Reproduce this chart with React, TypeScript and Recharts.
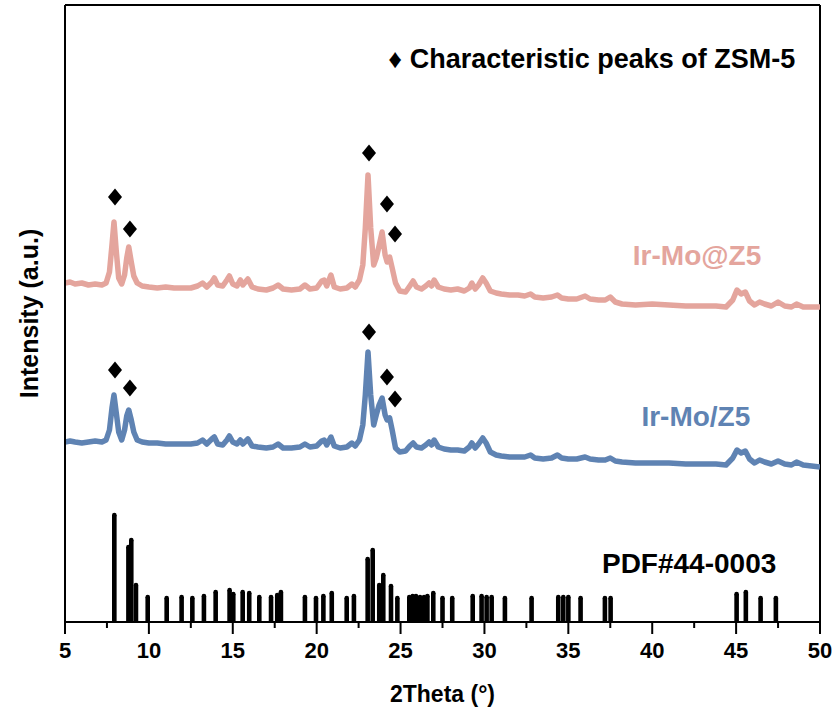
import React from "react"
import { ComposedChart, Line, Scatter, ErrorBar, XAxis, YAxis, ReferenceLine, ReferenceDot } from "recharts"

// 2theta positions shared by both measured patterns
const thetas = [
    5.0, 5.3, 5.6, 6.0, 6.4, 6.8, 7.2, 7.45, 7.65, 7.8, 7.92, 8.05, 8.2, 8.38, 8.55, 8.68, 8.8, 8.95, 9.1, 9.3,
    9.6, 10.0, 10.5, 11.0, 11.5, 12.0, 12.5, 12.9, 13.2, 13.45, 13.75, 13.9, 14.1, 14.4, 14.65, 14.8, 15.0, 15.25,
    15.45, 15.6, 15.9, 16.15, 16.5, 17.0, 17.4, 17.7, 18.0, 18.5, 19.0, 19.3, 19.6, 20.0, 20.3, 20.45, 20.6, 20.85,
    21.05, 21.4, 21.8, 22.1, 22.3, 22.55, 22.75, 22.9, 23.06, 23.22, 23.4, 23.55, 23.72, 23.9, 24.08, 24.2, 24.35,
    24.5, 24.7, 24.95, 25.3, 25.55, 25.75, 25.95, 26.25, 26.5, 26.7, 26.85, 27.0, 27.25, 27.6, 28.0, 28.4, 28.8,
    29.1, 29.25, 29.45, 29.65, 29.9, 30.1, 30.35, 30.7, 31.0, 31.5, 32.0, 32.4, 32.75, 33.0, 33.5, 34.0, 34.35,
    34.6, 35.0, 35.5, 36.0, 36.3, 36.8, 37.2, 37.5, 37.8, 38.2, 39, 40, 41, 42, 43, 43.8, 44.4, 44.8, 45.05, 45.3,
    45.55, 45.8, 46.1, 46.4, 46.7, 47.1, 47.5, 47.9, 48.3, 48.6, 49, 49.5, 50,
]

// Ir-Mo@Z5 (offset upward)
const irMoAtZ5 = [
    339, 340, 338, 339, 337, 338, 337, 339, 350, 377, 400, 372, 344, 338, 347, 364, 375, 360, 346, 339,
    336, 335, 334, 335, 334, 334, 334, 336, 339, 335, 340, 344, 337, 336, 342, 346, 338, 336,
    342, 337, 343, 335, 333, 332, 334, 337, 333, 332, 333, 337, 333, 334, 341, 342, 336, 347,
    335, 333, 334, 338, 335, 342, 357, 394, 447, 394, 357, 364, 376, 390, 367, 360, 365,
    354, 339, 331, 330, 336, 341, 335, 333, 336, 339, 336, 342, 335, 333, 332, 333, 331,
    334, 339, 333, 337, 344, 339, 331, 329, 328, 327, 327, 326, 328, 325, 324, 325, 327,
    324, 323, 323, 326, 323, 322, 322, 325, 320, 318, 317, 318, 317, 316, 316, 316, 315, 322, 332, 328,
    330, 321, 317, 320, 318, 316, 320, 316, 315, 318, 315, 315, 315,
]

// Ir-Mo/Z5
const irMoZ5 = [
    180, 181, 180, 179, 180, 181, 180, 182, 192, 214, 227, 210, 190, 182, 192, 206, 212, 202, 190, 182,
    180, 179, 179, 178, 178, 178, 178, 179, 182, 178, 183, 185, 178, 177, 182, 186, 180, 178,
    182, 178, 183, 176, 175, 174, 175, 178, 174, 174, 175, 178, 175, 176, 181, 182, 177, 185,
    176, 174, 175, 179, 176, 182, 197, 227, 270, 227, 197, 207, 217, 224, 207, 202, 204,
    192, 174, 170, 171, 176, 179, 175, 174, 177, 180, 177, 182, 175, 173, 172, 172, 171,
    175, 179, 174, 178, 184, 179, 170, 167, 166, 165, 165, 165, 167, 164, 163, 164, 167,
    164, 163, 163, 165, 163, 162, 162, 164, 161, 160, 159, 159, 159, 158, 158, 158, 157, 164, 172, 169,
    171, 163, 159, 162, 160, 158, 161, 158, 157, 160, 157, 156, 155,
]

// PDF#44-0003 reference lines
const pdfTheta = [
    7.94, 8.78, 8.95, 9.23, 9.93, 11.06, 11.95, 12.59, 13.28, 13.98, 14.81, 15.03, 15.59, 15.98, 16.58, 17.28,
    17.65, 17.87, 19.3, 19.96, 20.4, 20.9, 21.79, 22.22, 23.04, 23.34, 23.73, 23.97, 24.43, 24.81, 25.52, 25.72,
    25.92, 26.16, 26.4, 26.6, 26.95, 27.5, 28.08, 29.3, 29.83, 30.13, 30.43, 31.22, 32.81, 34.4, 34.7, 35.0,
    35.73, 37.18, 37.52, 45.03, 45.58, 46.46, 47.37,
]
const pdfIntensity = [
    107, 75, 82, 37, 25, 24, 25, 24, 26, 30, 32, 28, 30, 29, 25, 25,
    27, 30, 25, 24, 26, 29, 24, 26, 63, 72, 37, 47, 36, 24, 25, 26,
    26, 25, 25, 26, 29, 24, 24, 26, 26, 25, 25, 24, 24, 25, 25, 25,
    24, 24, 24, 28, 30, 24, 24,
]

// characteristic ZSM-5 peak markers
const markTheta = [7.98, 8.87, 23.12, 24.19, 24.67]
const markAtZ5 = [425, 393, 469, 418, 388]
const markZ5 = [252, 234, 290, 245, 223]

const xTicks = [5, 7.5, 10, 12.5, 15, 17.5, 20, 22.5, 25, 27.5, 30, 32.5, 35, 37.5, 40, 42.5, 45, 47.5, 50]

const PINK = "#E4A59D"
const BLUE = "#5F83B3"
const FONT = "Arial, 'Liberation Sans', sans-serif"

const atZ5Data = thetas.map((x, i) => ({ x, v: irMoAtZ5[i] }))
const z5Data = thetas.map((x, i) => ({ x, v: irMoZ5[i] }))
const pdfData = pdfTheta.map((x, i) => ({ x, y: pdfIntensity[i], err: [pdfIntensity[i], 0] }))
const markAtZ5Data = markTheta.map((x, i) => ({ x, y: markAtZ5[i] }))
const markZ5Data = markTheta.map((x, i) => ({ x, y: markZ5[i] }))

function Diamond(props: any) {
    const { cx, cy } = props
    return <polygon points={`${cx},${cy - 8.5} ${cx + 7},${cy} ${cx},${cy + 8.5} ${cx - 7},${cy}`} fill="#000" />
}

function BarTop(props: any) {
    const { cx, cy } = props
    return <circle cx={cx} cy={cy} r={2.3} fill="#000" />
}

function XTick(props: any) {
    const { x, y, payload } = props
    const major = payload.value % 5 === 0
    return (
        <g>
            <line x1={x} x2={x} y1={y} y2={y + (major ? 12 : 6)} stroke="#000" strokeWidth={2} />
            {major && (
                <text x={x} y={y + 36} textAnchor="middle" fontSize={22} fontWeight="bold" fontFamily={FONT} fill="#000">
                    {payload.value}
                </text>
            )}
        </g>
    )
}

const labelStyle = { fontFamily: FONT, fontWeight: "bold" as const }

export default function App() {
    return (
        <div style={{ position: "absolute", left: 0, top: 0, background: "#fff" }}>
            <ComposedChart width={840} height={716} margin={{ top: 5, right: 20, left: 0, bottom: 0 }}>
                <XAxis
                    dataKey="x"
                    type="number"
                    domain={[5, 50]}
                    ticks={xTicks}
                    interval={0}
                    tickLine={false}
                    tickSize={0}
                    tickMargin={0}
                    tick={<XTick />}
                    axisLine={{ stroke: "#000", strokeWidth: 2 }}
                    height={94}
                    allowDataOverflow
                    label={{ value: "2Theta (°)", position: "insideBottom", offset: 14, fill: "#000", fontSize: 23, ...labelStyle }}
                />
                <YAxis
                    type="number"
                    domain={[0, 617]}
                    tick={false}
                    tickLine={false}
                    axisLine={{ stroke: "#000", strokeWidth: 2 }}
                    width={65}
                    allowDataOverflow
                    label={{ value: "Intensity (a.u.)", angle: -90, position: "center", dx: -3, fill: "#000", fontSize: 25, ...labelStyle }}
                />
                <ReferenceLine y={617} stroke="#000" strokeWidth={2} />
                <ReferenceLine x={50} stroke="#000" strokeWidth={2} />

                <Line data={atZ5Data} dataKey="v" type="linear" stroke={PINK} strokeWidth={5.5} strokeLinejoin="round" dot={false} isAnimationActive={false} />
                <Line data={z5Data} dataKey="v" type="linear" stroke={BLUE} strokeWidth={5.5} strokeLinejoin="round" dot={false} isAnimationActive={false} />

                <Scatter data={pdfData} dataKey="y" shape={<BarTop />} isAnimationActive={false}>
                    <ErrorBar dataKey="err" direction="y" width={0} stroke="#000" strokeWidth={4.6} isAnimationActive={false} />
                </Scatter>

                <Scatter data={markAtZ5Data} dataKey="y" shape={<Diamond />} isAnimationActive={false} />
                <Scatter data={markZ5Data} dataKey="y" shape={<Diamond />} isAnimationActive={false} />

                <ReferenceDot x={36.4} y={564} r={0} label={{ value: "♦ Characteristic peaks of ZSM-5", position: "center", fill: "#000", fontSize: 27, ...labelStyle }} />
                <ReferenceDot x={42.67} y={367} r={0} label={{ value: "Ir-Mo@Z5", position: "center", fill: PINK, fontSize: 28, ...labelStyle }} />
                <ReferenceDot x={42.6} y={206} r={0} label={{ value: "Ir-Mo/Z5", position: "center", fill: BLUE, fontSize: 28, ...labelStyle }} />
                <ReferenceDot x={42.2} y={59} r={0} label={{ value: "PDF#44-0003", position: "center", fill: "#000", fontSize: 28, ...labelStyle }} />
            </ComposedChart>
        </div>
    )
}
